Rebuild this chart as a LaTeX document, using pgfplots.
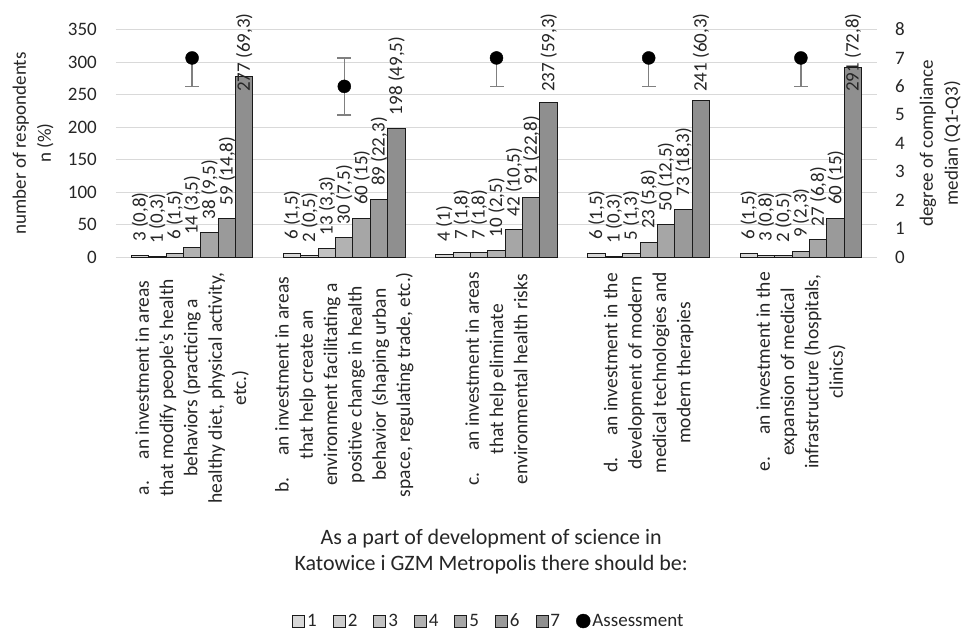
\documentclass[border=0pt]{standalone}
\usepackage{pgfplots}
\pgfplotsset{compat=1.18}
\usepackage{pgfplotstable}
\usepackage{fontspec}
\setmainfont{Carlito}

\definecolor{g1}{HTML}{D8D8D8}
\definecolor{g2}{HTML}{CDCDCD}
\definecolor{g3}{HTML}{C2C2C2}
\definecolor{g4}{HTML}{B2B2B2}
\definecolor{g5}{HTML}{A6A6A6}
\definecolor{g6}{HTML}{9A9A9A}
\definecolor{g7}{HTML}{8F8F8F}
\definecolor{gridc}{HTML}{D9D9D9}
\definecolor{txt}{HTML}{262626}
\definecolor{edge}{HTML}{1A1A1A}
\definecolor{errc}{HTML}{808080}

% columns: group, count, label height, label
\pgfplotstableread{
x y ly lab
0 3 3 {3 (0,8)}
1 6 6 {6 (1,5)}
2 4 4 {4 (1)}
3 6 6 {6 (1,5)}
4 6 6 {6 (1,5)}
}\sA
\pgfplotstableread{
x y ly lab
0 1 1 {1 (0,3)}
1 2 2 {2 (0,5)}
2 7 7 {7 (1,8)}
3 1 1 {1 (0,3)}
4 3 3 {3 (0,8)}
}\sB
\pgfplotstableread{
x y ly lab
0 6 6 {6 (1,5)}
1 13 13 {13 (3,3)}
2 7 7 {7 (1,8)}
3 5 5 {5 (1,3)}
4 2 2 {2 (0,5)}
}\sC
\pgfplotstableread{
x y ly lab
0 14 14 {14 (3,5)}
1 30 30 {30 (7,5)}
2 10 10 {10 (2,5)}
3 23 23 {23 (5,8)}
4 9 9 {9 (2,3)}
}\sD
\pgfplotstableread{
x y ly lab
0 38 38 {38 (9,5)}
1 60 60 {60 (15)}
2 42 42 {42 (10,5)}
3 50 50 {50 (12,5)}
4 27 27 {27 (6,8)}
}\sE
\pgfplotstableread{
x y ly lab
0 59 59 {59 (14,8)}
1 89 89 {89 (22,3)}
2 91 91 {91 (22,8)}
3 73 73 {73 (18,3)}
4 60 60 {60 (15)}
}\sF
\pgfplotstableread{
x y ly lab
0 277 234 {277 (69,3)}
1 198 198 {198 (49,5)}
2 237 234 {237 (59,3)}
3 241 234 {241 (60,3)}
4 291 234 {291 (72,8)}
}\sG
% median with distance to Q3 (ep) and to Q1 (em)
\pgfplotstableread{
x y ep em
0 7 0 1
2 7 0 1
3 7 0 1
4 7 0 1
}\medA
\pgfplotstableread{
x y ep em
1 6 1 1
}\medB

\pgfplotsset{
  barbase/.style={ybar, bar width=0.1143, draw=edge, line width=1pt,
    legend image code/.code={\draw[##1, draw=edge, line width=0.9pt] (0pt,-6pt) rectangle (12pt,6pt);}},
  lblbase/.style={draw=none, mark=none, forget plot,
    nodes near coords, point meta=explicit symbolic,
    every node near coord/.style={rotate=90, anchor=west, inner xsep=13pt, inner ysep=0pt,
      font=\fontsize{19}{22}\selectfont, text=txt}},
}

\begin{document}
\begin{tikzpicture}[font=\fontsize{19}{23}\selectfont]
\useasboundingbox (-116pt,-373pt) rectangle (848pt,257pt);
\begin{axis}[
  scale only axis, width=761pt, height=227.5pt,
  xmin=-0.5, xmax=4.5, ymin=0, ymax=350,
  clip=false,
  ytick={0,50,...,350},
  xtick={0,1,2,3,4},
  axis x line*=bottom, axis y line*=left,
  axis line style={draw=none},
  major tick length=0pt,
  ymajorgrids, grid style={gridc, line width=1pt},
  /pgf/number format/assume math mode=true,
  yticklabel style={inner sep=0pt, text=txt},
  yticklabel shift=19pt,
  xticklabel style={font=\fontsize{19.5}{24.3}\selectfont, rotate=90, anchor=east, align=center, inner sep=0pt, text=txt},
  xticklabel shift=15pt,
  xticklabels={
    {a.\hspace{22pt}an investment in areas\\that modify people's health\\behaviors (practicing a\\healthy diet, physical activity,\\etc.)},
    {b.\hspace{22pt}an investment in areas\\that help create an\\environment facilitating a\\positive change in health\\behavior (shaping urban\\space, regulating trade, etc.)},
    {c.\hspace{22pt}an investment in areas\\that help eliminate\\environmental health risks},
    {d.\hspace{22pt}an investment in the\\development of modern\\medical technologies and\\modern therapies},
    {e.\hspace{22pt}an investment in the\\expansion of medical\\infrastructure (hospitals,\\clinics)}
  },
  every axis y label/.style={at={(axis description cs:-0.109,0.5)}, rotate=90, anchor=center, align=center, font=\fontsize{19}{25}\selectfont, text=txt},
  ylabel={number of respondents\\n (\%)},
  legend style={at={(axis description cs:0.490,-1.600)}, anchor=center, draw=none, fill=none,
    legend columns=8, font=\fontsize{19}{22}\selectfont, text=txt,
    nodes={inner xsep=2pt, inner ysep=0pt},
    /tikz/every even column/.append style={column sep=14pt}},
]
\addplot[barbase, fill=g1, bar shift=-0.3429] table[x=x,y=y] {\sA};
\addplot[barbase, fill=g2, bar shift=-0.2286] table[x=x,y=y] {\sB};
\addplot[barbase, fill=g3, bar shift=-0.1143] table[x=x,y=y] {\sC};
\addplot[barbase, fill=g4, bar shift=0] table[x=x,y=y] {\sD};
\addplot[barbase, fill=g5, bar shift=0.1143] table[x=x,y=y] {\sE};
\addplot[barbase, fill=g6, bar shift=0.2286] table[x=x,y=y] {\sF};
\addplot[barbase, fill=g7, bar shift=0.3429] table[x=x,y=y] {\sG};
\addlegendimage{legend image code/.code={\fill[black] (7pt,0pt) circle (7pt);}}
\legend{1,2,3,4,5,6,7,Assessment}
\addplot[lblbase] table[x expr=\thisrow{x}-0.3429,y=ly,meta=lab] {\sA};
\addplot[lblbase] table[x expr=\thisrow{x}-0.2286,y=ly,meta=lab] {\sB};
\addplot[lblbase] table[x expr=\thisrow{x}-0.1143,y=ly,meta=lab] {\sC};
\addplot[lblbase] table[x expr=\thisrow{x},y=ly,meta=lab] {\sD};
\addplot[lblbase] table[x expr=\thisrow{x}+0.1143,y=ly,meta=lab] {\sE};
\addplot[lblbase] table[x expr=\thisrow{x}+0.2286,y=ly,meta=lab] {\sF};
\addplot[lblbase] table[x expr=\thisrow{x}+0.3429,y=ly,meta=lab] {\sG};
\node[align=center, font=\fontsize{22}{26.5}\selectfont, text=txt] at (axis description cs:0.493,-1.295)
  {As a part of development of science in\\Katowice i GZM Metropolis there should be:};
\end{axis}
\begin{axis}[
  scale only axis, width=761pt, height=227.5pt,
  xmin=-0.5, xmax=4.5, ymin=0, ymax=8,
  clip=false,
  ytick={0,1,...,8},
  axis y line*=right, axis x line=none,
  axis line style={draw=none},
  major tick length=0pt,
  /pgf/number format/assume math mode=true,
  yticklabel style={inner sep=0pt, text=txt},
  yticklabel shift=18pt,
  every axis y label/.style={at={(axis description cs:1.083,0.5)}, rotate=90, anchor=center, align=center, font=\fontsize{19}{25}\selectfont, text=txt},
  ylabel={degree of compliance\\median (Q1-Q3)},
]
\addplot[only marks, mark=*, mark size=6.5pt, black,
  error bars/.cd, y dir=minus, y explicit,
  error bar style={errc, line width=1.5pt},
  error mark=-,
  error mark options={rotate=90, errc, line width=1.5pt, mark size=7pt}]
  table[x=x, y=y, y error plus=ep, y error minus=em] {\medA};
\addplot[only marks, mark=*, mark size=6.5pt, black,
  error bars/.cd, y dir=both, y explicit,
  error bar style={errc, line width=1.5pt},
  error mark=-,
  error mark options={rotate=90, errc, line width=1.5pt, mark size=7pt}]
  table[x=x, y=y, y error plus=ep, y error minus=em] {\medB};
\end{axis}
\end{tikzpicture}
\end{document}
